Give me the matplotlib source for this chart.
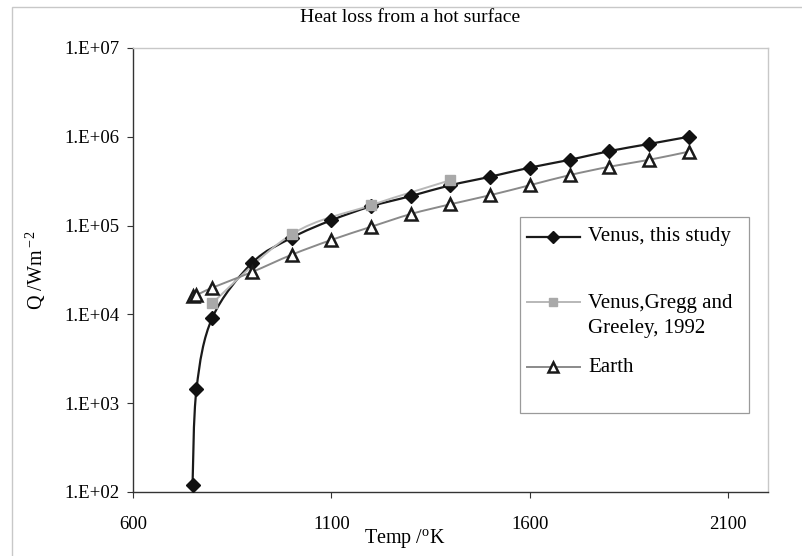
import matplotlib
matplotlib.use('Agg')
import matplotlib.pyplot as plt
from matplotlib.path import Path
from matplotlib.patches import PathPatch, Rectangle
from matplotlib.lines import Line2D
from matplotlib.ticker import FuncFormatter
import numpy as np

# Data
venus_temp = [750, 760, 800, 900, 1000, 1100, 1200, 1300, 1400, 1500, 1600, 1700, 1800, 1900, 2000]
venus_q = [1.2e2, 1.45e3, 9.2e3, 3.8e4, 7.3e4, 1.15e5, 1.65e5, 2.15e5, 2.85e5, 3.55e5,
           4.5e5, 5.5e5, 6.9e5, 8.3e5, 1.0e6]

gregg_temp = [800, 1000, 1200, 1400]
gregg_q = [1.35e4, 8.0e4, 1.7e5, 3.25e5]

earth_temp = [750, 760, 800, 900, 1000, 1100, 1200, 1300, 1400, 1500, 1600, 1700, 1800, 1900, 2000]
earth_q = [1.6e4, 1.65e4, 2.0e4, 3.0e4, 4.7e4, 6.9e4, 9.7e4, 1.35e5, 1.74e5, 2.2e5,
           2.85e5, 3.7e5, 4.6e5, 5.5e5, 6.8e5]

labels = ['Venus, this study', 'Venus,Gregg and\nGreeley, 1992', 'Earth']

plt.rcParams['font.family'] = ['Liberation Serif', 'DejaVu Serif']
plt.rcParams['mathtext.fontset'] = 'custom'
plt.rcParams['mathtext.rm'] = 'Liberation Serif'
plt.rcParams['mathtext.it'] = 'Liberation Serif:italic'


def smooth_path(xs, ys):
    """Excel-style smoothed line: cubic Bezier segments built in (x, log10 y)."""
    px = np.asarray(xs, float)
    py = np.log10(np.asarray(ys, float))
    n = len(px)
    verts = [(px[0], py[0])]
    codes = [Path.MOVETO]
    for i in range(n - 1):
        i0, i3 = max(i - 1, 0), min(i + 2, n - 1)
        p0 = np.array([px[i0], py[i0]])
        p1 = np.array([px[i], py[i]])
        p2 = np.array([px[i + 1], py[i + 1]])
        p3 = np.array([px[i3], py[i3]])
        c1 = p1 + (p2 - p0) / 6.0
        c2 = p2 - (p3 - p1) / 6.0
        verts += [tuple(c1), tuple(c2), tuple(p2)]
        codes += [Path.CURVE4] * 3
    verts = np.array(verts)
    verts[:, 1] = 10 ** verts[:, 1]
    return Path(verts, codes)


fig = plt.figure(figsize=(8.03, 5.56), dpi=100)
fig.patches.append(Rectangle((12 / 803, -0.1), 1.2, (556 - 7) / 556 + 0.1,
                             transform=fig.transFigure, fill=False,
                             edgecolor='#c8c8c8', linewidth=1.0))

ax = fig.add_axes([133 / 803, 64 / 556, 635 / 803, 444 / 556])

styles = [
    dict(color='#1a1a1a', lw=1.6, marker='D', ms=7, mfc='#111111', mec='#111111', mew=1.0),
    dict(color='#b8b8b8', lw=1.4, marker='s', ms=7, mfc='#a9a9a9', mec='#a9a9a9', mew=1.0),
    dict(color='#8a8a8a', lw=1.4, marker='^', ms=8.5, mfc='white', mec='#1a1a1a', mew=1.8),
]
series = [(venus_temp, venus_q), (gregg_temp, gregg_q), (earth_temp, earth_q)]

# lines first, then markers on top
for (xs, ys), st in zip(series, styles):
    ax.add_patch(PathPatch(smooth_path(xs, ys), fill=False, edgecolor=st['color'],
                           linewidth=st['lw'], zorder=2))
for (xs, ys), st in zip(series, styles):
    ax.plot(xs, ys, linestyle='none', marker=st['marker'], ms=st['ms'],
            mfc=st['mfc'], mec=st['mec'], mew=st['mew'], zorder=3)

ax.set_yscale('log')
ax.set_ylim(1e2, 1e7)
ax.set_xlim(600, 2200)
ax.set_xticks([600, 1100, 1600, 2100])
ax.set_yticks([1e2, 1e3, 1e4, 1e5, 1e6, 1e7])
ax.yaxis.set_minor_locator(matplotlib.ticker.NullLocator())
ax.yaxis.set_major_formatter(FuncFormatter(lambda v, p: '1.E+%02d' % round(np.log10(v))))
ax.tick_params(axis='both', direction='out', length=4, width=0.8, color='#333333',
               labelsize=13.5)
ax.tick_params(axis='x', pad=13)
ax.tick_params(axis='y', pad=6)

for side in ['left', 'bottom']:
    ax.spines[side].set_color('#333333')
    ax.spines[side].set_linewidth(1.0)
for side in ['top', 'right']:
    ax.spines[side].set_color('#c8c8c8')
    ax.spines[side].set_linewidth(1.0)

fig.text(410 / 803, 1 - 17 / 556, 'Heat loss from a hot surface', ha='center', va='center',
         fontsize=14)
fig.text(405 / 803, 1 - 538 / 556, r'Temp /$^{\rm o}$K', ha='center', va='center',
         fontsize=14.5)
fig.text(36 / 803, 1 - 270 / 556, r'Q /Wm$^{\rm -2}$', ha='center', va='center',
         rotation=90, fontsize=14.5)

# legend box drawn by hand to match the spacing of the original
def ax_xy(px, py):
    return ((px - 133) / 635.0, (492 - py) / 444.0)

x0, y0 = ax_xy(520, 413)
x1, y1 = ax_xy(749, 217)
ax.add_patch(Rectangle((x0, y0), x1 - x0, y1 - y0, transform=ax.transAxes,
                       facecolor='white', edgecolor='#9a9a9a', linewidth=0.9, zorder=4))
handle_y = [237, 302, 367]
text_y = [237, 316, 367]
for st, hy, ty, lab in zip(styles, handle_y, text_y, labels):
    ha, hb = ax_xy(527, hy), ax_xy(580, hy)
    ax.add_line(Line2D([ha[0], hb[0]], [ha[1], hb[1]], transform=ax.transAxes,
                       color=st['color'], lw=st['lw'], zorder=5))
    hm = ax_xy(553, hy)
    ax.add_line(Line2D([hm[0]], [hm[1]], transform=ax.transAxes, linestyle='none',
                       marker=st['marker'], ms=st['ms'] * 0.9, mfc=st['mfc'], mec=st['mec'],
                       mew=st['mew'], zorder=6))
    tx, tyy = ax_xy(588, ty)
    ax.text(tx, tyy, lab, transform=ax.transAxes, ha='left', va='center',
            fontsize=15, linespacing=1.4, zorder=6)

fig.savefig('out.png', dpi=100)
